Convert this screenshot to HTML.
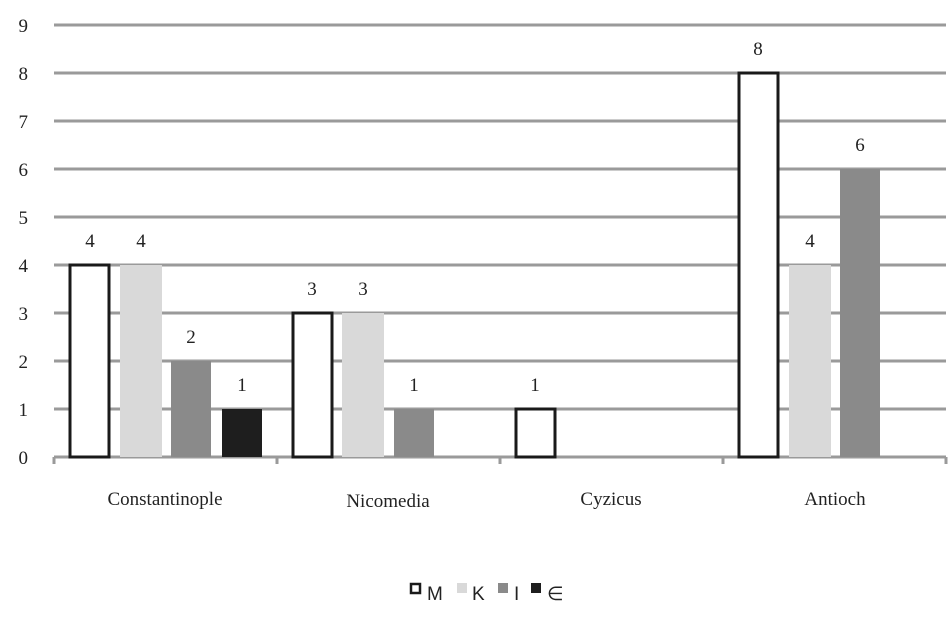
<!DOCTYPE html>
<html><head><style>body{margin:0;background:#fff}</style></head><body>
<svg width="952" height="615" xmlns="http://www.w3.org/2000/svg" font-family="Liberation Serif, serif" font-size="19" fill="#222">
<g stroke="#9a9a9a" stroke-width="3">
<line x1="54" x2="946" y1="25" y2="25"/><line x1="54" x2="946" y1="73" y2="73"/><line x1="54" x2="946" y1="121" y2="121"/><line x1="54" x2="946" y1="169" y2="169"/><line x1="54" x2="946" y1="217" y2="217"/><line x1="54" x2="946" y1="265" y2="265"/><line x1="54" x2="946" y1="313" y2="313"/><line x1="54" x2="946" y1="361" y2="361"/><line x1="54" x2="946" y1="409" y2="409"/><line x1="54" x2="946" y1="457" y2="457"/>
<line x1="54" x2="54" y1="457" y2="464"/><line x1="277" x2="277" y1="457" y2="464"/><line x1="500" x2="500" y1="457" y2="464"/><line x1="723" x2="723" y1="457" y2="464"/><line x1="946" x2="946" y1="457" y2="464"/>
</g>
<g text-anchor="end">
<text x="28" y="32">9</text><text x="28" y="80">8</text><text x="28" y="128">7</text><text x="28" y="176">6</text><text x="28" y="224">5</text><text x="28" y="272">4</text><text x="28" y="320">3</text><text x="28" y="368">2</text><text x="28" y="416">1</text><text x="28" y="464">0</text>
</g>
<g stroke="#1a1a1a" stroke-width="3" fill="#fff">
<rect x="70" y="265" width="39" height="192"/>
<rect x="293" y="313" width="39" height="144"/>
<rect x="516" y="409" width="39" height="48"/>
<rect x="739" y="73" width="39" height="384"/>
</g>
<g fill="#d9d9d9">
<rect x="120" y="265" width="42" height="192"/><rect x="342" y="313" width="42" height="144"/><rect x="789" y="265" width="42" height="192"/>
</g>
<g fill="#8a8a8a">
<rect x="171" y="361" width="40" height="96"/><rect x="394" y="409" width="40" height="48"/><rect x="840" y="169" width="40" height="288"/>
</g>
<rect x="222" y="409" width="40" height="48" fill="#1e1e1e"/>
<g text-anchor="middle">
<text x="90" y="247">4</text><text x="141" y="247">4</text><text x="191" y="343">2</text><text x="242" y="391">1</text>
<text x="312" y="295">3</text><text x="363" y="295">3</text><text x="414" y="391">1</text>
<text x="535" y="391">1</text>
<text x="758" y="55">8</text><text x="810" y="247">4</text><text x="860" y="151">6</text>
<text x="165" y="505">Constantinople</text><text x="388" y="507">Nicomedia</text><text x="611" y="505">Cyzicus</text><text x="835" y="505">Antioch</text>
</g>
<g font-family="Liberation Sans, sans-serif" font-size="19">
<rect x="411" y="584" width="9" height="9" fill="#fff" stroke="#1a1a1a" stroke-width="2.5"/><text x="427" y="600">M</text>
<rect x="457" y="583" width="10" height="10" fill="#d9d9d9"/><text x="472" y="600">K</text>
<rect x="498" y="583" width="10" height="10" fill="#8a8a8a"/><text x="514" y="600">I</text>
<rect x="531" y="583" width="10" height="10" fill="#1e1e1e"/><text x="547" y="600">∈</text>
</g>
</svg>
</body></html>
